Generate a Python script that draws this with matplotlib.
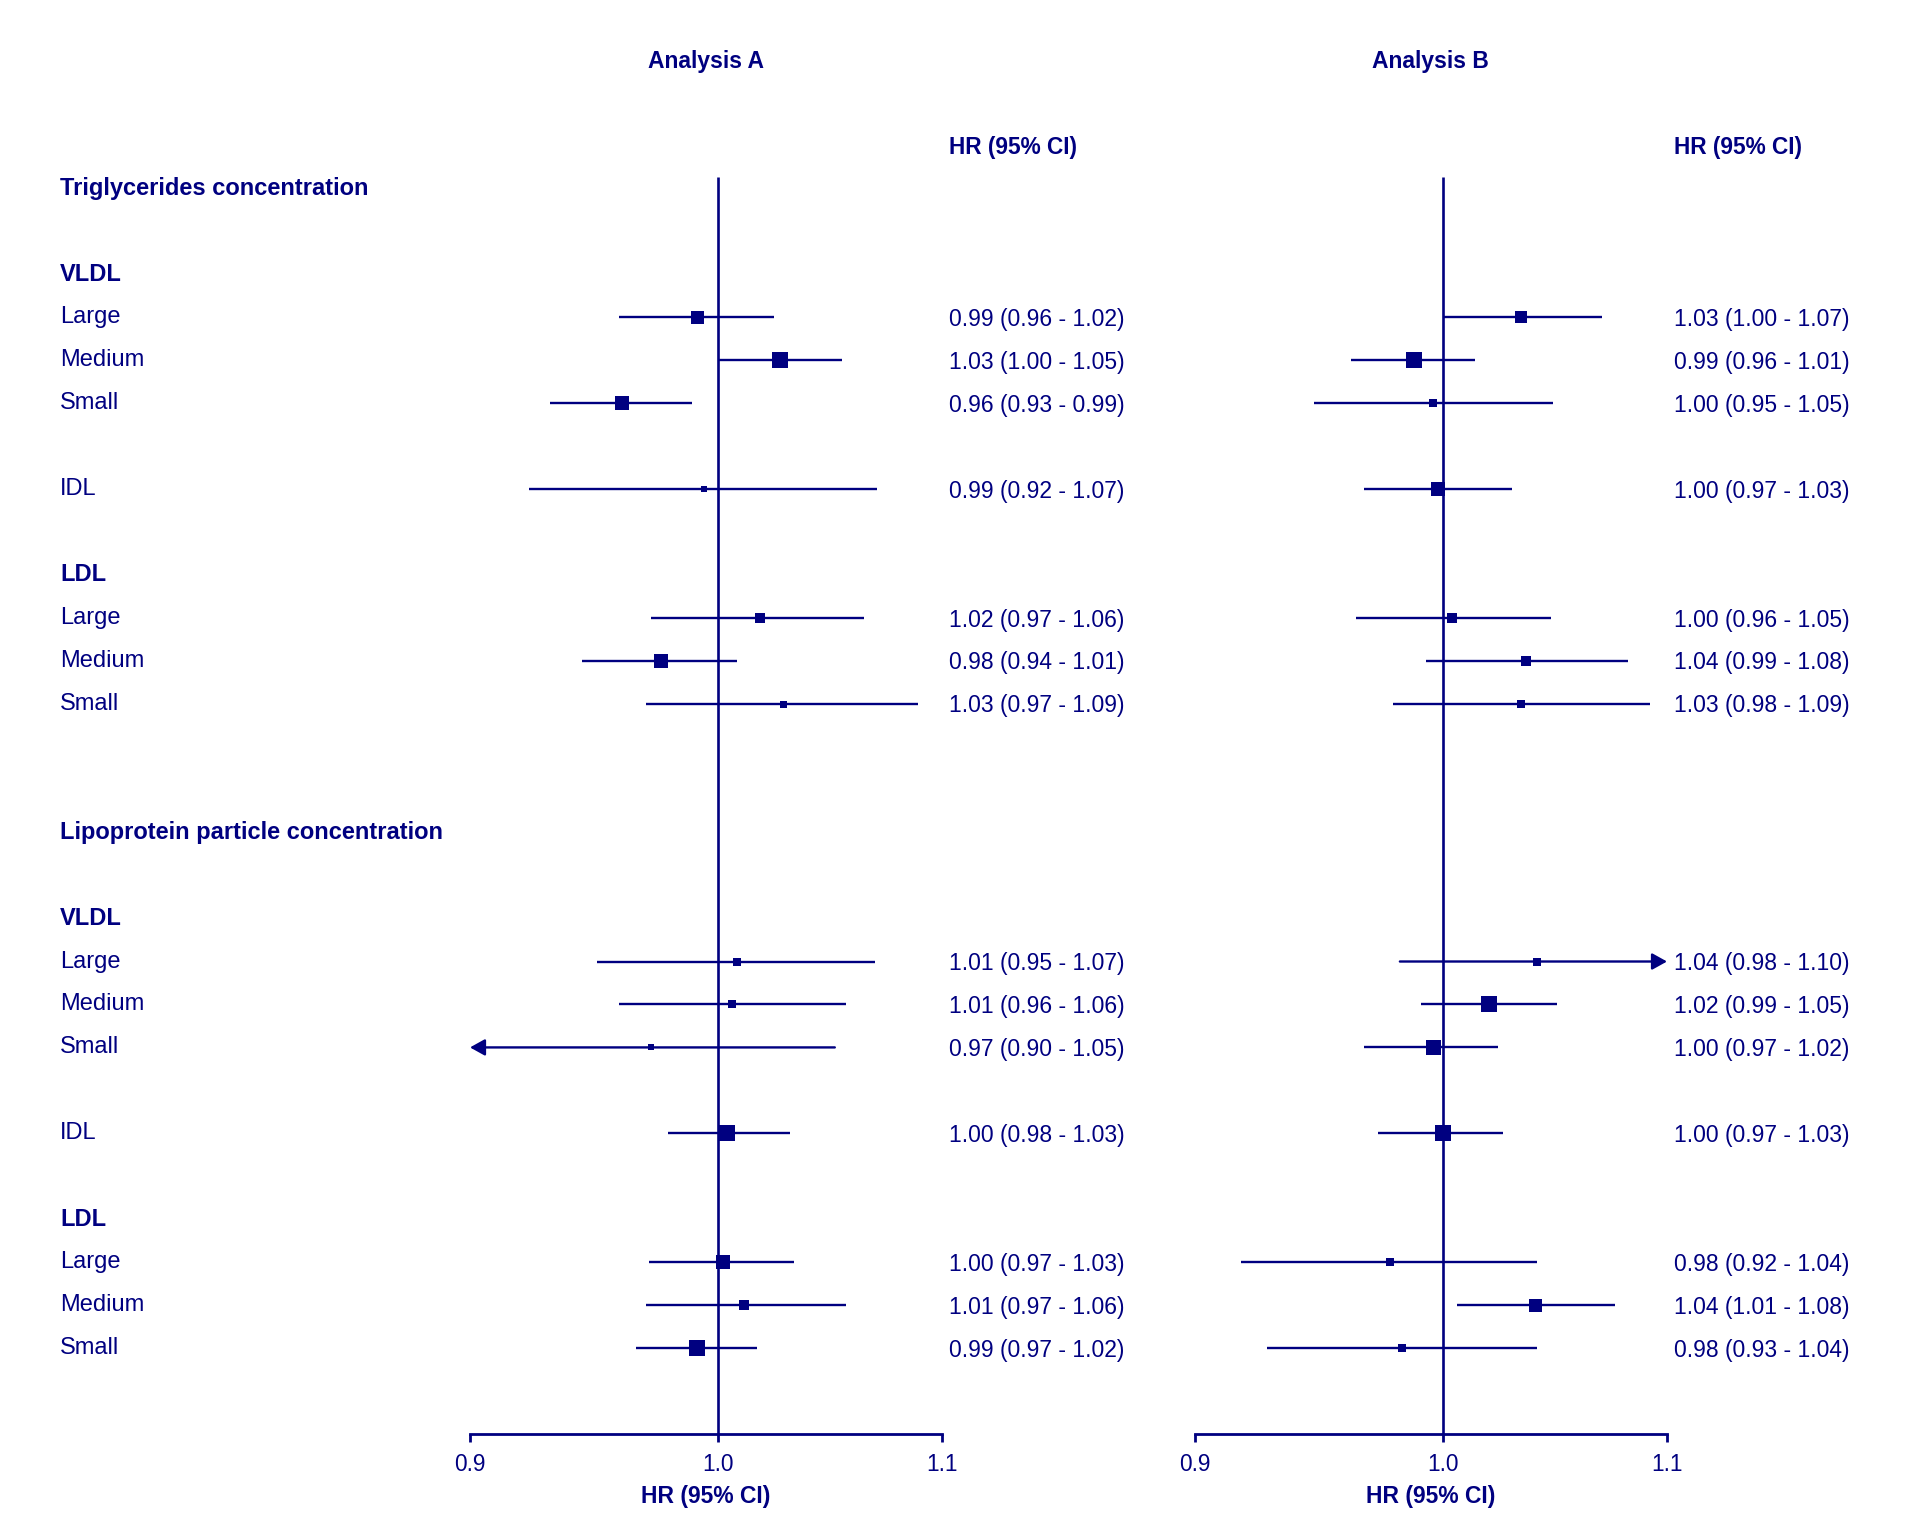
import matplotlib.pyplot as plt
import matplotlib.transforms as mtransforms
from matplotlib.ticker import FixedLocator, FixedFormatter, NullLocator

NAVY = '#000080'
plt.rcParams['font.family'] = ['Liberation Sans', 'DejaVu Sans']
plt.rcParams['font.size'] = 16

sections = ['Triglycerides concentration', 'Lipoprotein particle concentration']
subclasses = ['Large', 'Medium', 'Small']
panels = ['Analysis A', 'Analysis B']

# order: VLDL L/M/S, IDL, LDL L/M/S  (triglycerides, then particle conc.)
hr_a = [0.991, 1.027, 0.960, 0.994, 1.018, 0.976, 1.028,
        1.008, 1.006, 0.972, 1.004, 1.002, 1.011, 0.991]
lo_a = [0.959, 1.000, 0.931, 0.923, 0.972, 0.944, 0.970,
        0.950, 0.959, 0.898, 0.979, 0.971, 0.970, 0.966]
hi_a = [1.024, 1.054, 0.989, 1.070, 1.064, 1.008, 1.089,
        1.069, 1.056, 1.051, 1.031, 1.033, 1.056, 1.017]
box_a = [13, 16, 14, 5.5, 9.3, 13.3, 7, 7.3, 8.7, 5.7, 16.7, 14, 10.3, 16.7]

hr_b = [1.034, 0.988, 0.996, 0.998, 1.004, 1.036, 1.034,
        1.041, 1.020, 0.996, 1.000, 0.978, 1.040, 0.983]
lo_b = [1.000, 0.962, 0.947, 0.967, 0.964, 0.993, 0.979,
        0.982, 0.991, 0.967, 0.973, 0.918, 1.006, 0.928]
hi_b = [1.070, 1.014, 1.048, 1.030, 1.047, 1.082, 1.092,
        1.104, 1.050, 1.024, 1.026, 1.041, 1.076, 1.041]
box_b = [12.3, 15.7, 8.3, 13.7, 10.7, 10.3, 7.7, 7.3, 15.3, 15, 16, 7.3, 13, 7.7]

xticks = [0.9, 1.0, 1.1]
xmin, xmax = 0.9, 1.1


def build_rows():
    rows = []
    r = 0
    for sec in sections:
        rows.append((r, sec, 'head'))
        r += 2
        rows.append((r, 'VLDL', 'group'))
        r += 1
        for s in subclasses:
            rows.append((r, s, 'item'))
            r += 1
        r += 1
        rows.append((r, 'IDL', 'item'))
        r += 2
        rows.append((r, 'LDL', 'group'))
        r += 1
        for s in subclasses:
            rows.append((r, s, 'item'))
            r += 1
        r += 2
    return rows, r - 1


rows, last_row = build_rows()
data_rows = [r for r, t, k in rows if k == 'item']

fig = plt.figure(figsize=(19.2, 15.36), dpi=100)
W, H = 1920, 1536
ybot, ytop = 29, -3.5
ax_bottom = 1 - 1434 / H
ax_height = (1434 - 38) / H
ax_a = fig.add_axes([470 / W, ax_bottom, 472 / W, ax_height])
ax_b = fig.add_axes([1194.6 / W, ax_bottom, 472.4 / W, ax_height])


def draw_panel(ax, title, hr, lo, hi, box, text_x):
    ax.set_xscale('log')
    ax.set_xlim(xmin, xmax)
    ax.set_ylim(ybot, ytop)
    for s in ['top', 'left', 'right']:
        ax.spines[s].set_visible(False)
    ax.spines['bottom'].set_color(NAVY)
    ax.spines['bottom'].set_linewidth(2)
    ax.xaxis.set_major_locator(FixedLocator(xticks))
    ax.xaxis.set_major_formatter(FixedFormatter(['%.1f' % t for t in xticks]))
    ax.xaxis.set_minor_locator(NullLocator())
    ax.tick_params(axis='x', colors=NAVY, length=6, width=2, labelsize=16.3, pad=8)
    ax.set_yticks([])
    ax.patch.set_alpha(0)

    ax.plot([1, 1], [-0.26, ybot], color=NAVY, lw=1.9, solid_capstyle='butt')

    tr_txt = mtransforms.blended_transform_factory(fig.transFigure, ax.transData)
    tr_mid = mtransforms.blended_transform_factory(ax.transAxes, ax.transData)
    ax.text(0.5, -2.95, title, transform=tr_mid, ha='center', va='center',
            color=NAVY, fontweight='bold', fontsize=16.5)
    ax.text(text_x, -0.95, 'HR (95% CI)', transform=tr_txt, ha='left', va='center',
            color=NAVY, fontweight='bold', fontsize=16.3)

    for i, r in enumerate(data_rows):
        l, h = lo[i], hi[i]
        if l < xmin:
            ax.annotate('', xy=(xmin, r), xytext=(h, r), annotation_clip=False,
                        arrowprops=dict(arrowstyle='-|>,head_length=0.45,head_width=0.25',
                                        mutation_scale=20, lw=1.7, color=NAVY,
                                        shrinkA=0, shrinkB=0))
        elif h > xmax:
            ax.annotate('', xy=(xmax, r), xytext=(l, r), annotation_clip=False,
                        arrowprops=dict(arrowstyle='-|>,head_length=0.45,head_width=0.25',
                                        mutation_scale=20, lw=1.7, color=NAVY,
                                        shrinkA=0, shrinkB=0))
        else:
            ax.plot([l, h], [r, r], color=NAVY, lw=1.7, solid_capstyle='butt')
        ax.plot(hr[i], r, marker='s', color=NAVY, markersize=box[i] * 0.72,
                markeredgewidth=0, linestyle='none')
        ax.text(text_x, r + 0.05, '%.2f (%.2f - %.2f)' % (hr[i], lo[i], hi[i]),
                transform=tr_txt, ha='left', va='center', color=NAVY, fontsize=16.5)

    ax.set_xlabel('HR (95% CI)', color=NAVY, fontweight='bold', fontsize=16.5, labelpad=6)


draw_panel(ax_a, panels[0], hr_a, lo_a, hi_a, box_a, 949 / W)
draw_panel(ax_b, panels[1], hr_b, lo_b, hi_b, box_b, 1674 / W)

tr_lab = mtransforms.blended_transform_factory(fig.transFigure, ax_a.transData)
for r, t, k in rows:
    ax_a.text(60 / W, r, t, transform=tr_lab, ha='left', va='center', color=NAVY,
              fontweight='normal' if k == 'item' else 'bold', fontsize=17)

fig.savefig('out.png', dpi=100, facecolor='white')
